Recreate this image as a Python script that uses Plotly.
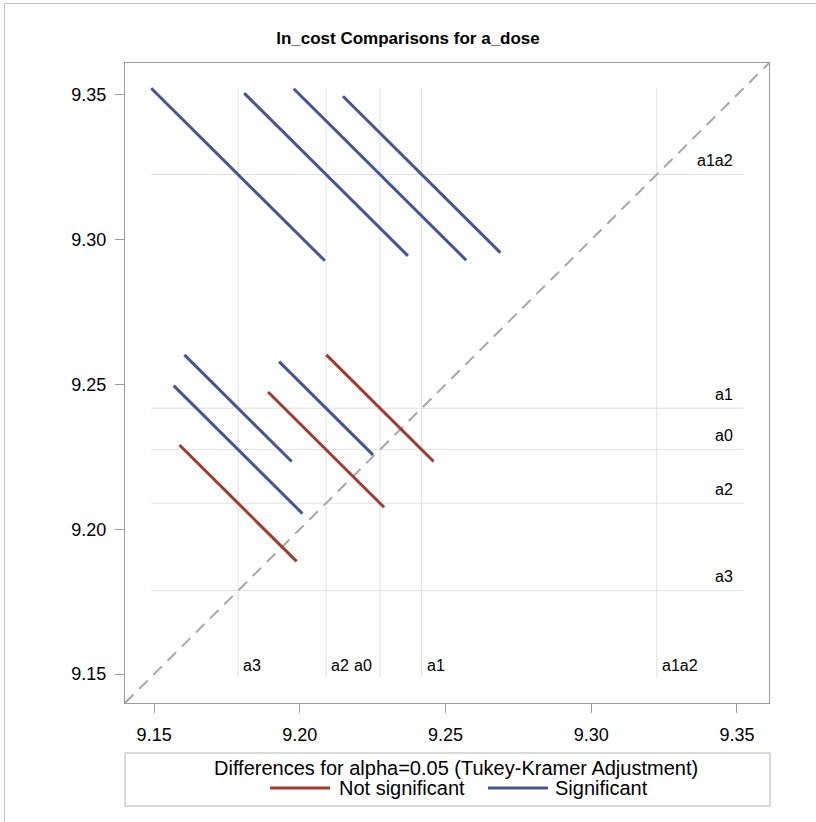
import plotly.graph_objects as go

# LS-means of ln_cost for each a_dose level
levels = ["a0", "a1", "a2", "a3", "a1a2"]
lsmeans = [9.2275, 9.2418, 9.2090, 9.1788, 9.3225]

# Pairwise comparisons: level on the x axis, level on the y axis,
# Tukey-Kramer CI half-width of the difference, and significance flag
pair_x = ["a3", "a2", "a0", "a1", "a3", "a3", "a3", "a2", "a2", "a0"]
pair_y = ["a1a2", "a1a2", "a1a2", "a1a2", "a1", "a0", "a2", "a1", "a0", "a1"]
ci_halfwidth = [0.0596, 0.0562, 0.0592, 0.0540, 0.0368, 0.0442, 0.0402, 0.0322, 0.0398, 0.0368]
significant = [True, True, True, True, True, True, False, True, False, False]

axis_range = [9.1400, 9.3610]
tick_vals = [9.15, 9.20, 9.25, 9.30, 9.35]
tick_text = ["9.15", "9.20", "9.25", "9.30", "9.35"]

legend_title = "Differences for alpha=0.05 (Tukey-Kramer Adjustment)"
legend_names = ["Not significant", "Significant"]

FONT = "Liberation Sans, Arial, sans-serif"
RED = "#A23A2E"
BLUE = "#445694"
REF = "#E0E0E0"
FRAME = "#9C9C9C"

# plot-area geometry in pixels, used to place paper-referenced items
W, H = 816, 822
ML, MR, MT, MB = 125, 47, 63, 119
PW, PH = W - ML - MR, H - MT - MB


def px(x):
    return (x - ML) / PW


def py(y):
    return (H - MB - y) / PH


mean_of = dict(zip(levels, lsmeans))

fig = go.Figure()

# diffogram segments: slope -1, centred on (mean_x, mean_y)
ends = []
for lx, ly, hw, sig in zip(pair_x, pair_y, ci_halfwidth, significant):
    cx, cy = mean_of[lx], mean_of[ly]
    h = hw / 2.0
    xs = [cx - h, cx + h]
    ys = [cy + h, cy - h]
    ends.extend(xs + ys)
    fig.add_trace(go.Scatter(
        x=xs, y=ys, mode="lines",
        line=dict(color=BLUE if sig else RED, width=3),
        name=legend_names[1] if sig else legend_names[0],
        showlegend=False, hoverinfo="skip",
    ))

lo, hi = min(ends), max(ends)

# reference lines at each LS-mean
for lv, m in zip(levels, lsmeans):
    fig.add_shape(type="line", x0=m, x1=m, y0=lo, y1=hi, xref="x", yref="y",
                  line=dict(color=REF, width=1), layer="below")
    fig.add_shape(type="line", x0=lo, x1=hi, y0=m, y1=m, xref="x", yref="y",
                  line=dict(color=REF, width=1), layer="below")

# diagonal y = x
fig.add_shape(type="line", x0=axis_range[0], y0=axis_range[0],
              x1=axis_range[1], y1=axis_range[1], xref="x", yref="y",
              line=dict(color="#A8A8A8", width=2, dash="12px,8px"), layer="below")

# labels for the reference lines
label_font = dict(family=FONT, size=16, color="#000000")
left_of_line = {"a0"}
for lv, m in zip(levels, lsmeans):
    if lv in left_of_line:
        fig.add_annotation(x=m, y=9.1531, xref="x", yref="y", text=lv,
                           showarrow=False, xanchor="right", xshift=-6,
                           font=label_font)
    else:
        fig.add_annotation(x=m, y=9.1531, xref="x", yref="y", text=lv,
                           showarrow=False, xanchor="left", xshift=3,
                           font=label_font)
    fig.add_annotation(x=9.3493, y=m, xref="x", yref="y", text=lv,
                       showarrow=False, xanchor="right", yanchor="middle",
                       yshift=14, font=label_font)

# legend: frame, heading and the two line keys
legend_font = dict(family=FONT, size=20, color="#000000")
fig.add_shape(type="rect", xref="paper", yref="paper",
              x0=px(125), x1=px(770), y0=py(806), y1=py(753),
              line=dict(color="#B4B4B4", width=1), fillcolor="white")
fig.add_annotation(xref="paper", yref="paper", x=px(456), y=py(768),
                   text=legend_title, showarrow=False,
                   xanchor="center", yanchor="middle", font=legend_font)
key_specs = [(RED, 270, 330, 337), (BLUE, 488, 548, 553)]
for name, (col, x0, x1, xt) in zip(legend_names, key_specs):
    fig.add_shape(type="line", xref="paper", yref="paper",
                  x0=px(x0), x1=px(x1), y0=py(788), y1=py(788),
                  line=dict(color=col, width=3))
    fig.add_annotation(xref="paper", yref="paper", x=px(xt), y=py(788),
                       text=name, showarrow=False,
                       xanchor="left", yanchor="middle", font=legend_font)

# outer graph border (top and left edges)
fig.add_shape(type="line", xref="paper", yref="paper",
              x0=px(4), x1=px(840), y0=py(3.5), y1=py(3.5),
              line=dict(color="#C8C8C8", width=1), layer="below")
fig.add_shape(type="line", xref="paper", yref="paper",
              x0=px(4.5), x1=px(4.5), y0=py(3), y1=py(840),
              line=dict(color="#C8C8C8", width=1), layer="below")

axis_common = dict(
    range=axis_range, tickvals=tick_vals, ticktext=tick_text,
    showgrid=False, zeroline=False, showline=True, mirror=True,
    linecolor=FRAME, linewidth=1, ticks="outside", ticklen=9,
    tickcolor=FRAME, tickfont=dict(family=FONT, size=18, color="#000000"),
)

fig.update_layout(
    width=W, height=H,
    margin=dict(l=ML, r=MR, t=MT, b=MB),
    paper_bgcolor="white", plot_bgcolor="white",
    title=dict(text="<b>ln_cost Comparisons for a_dose</b>",
               x=0.5, xref="container", xanchor="center",
               y=1 - 38 / H, yanchor="middle",
               font=dict(family=FONT, size=17, color="#000000")),
    xaxis=dict(axis_common, ticklabelstandoff=6),
    yaxis=dict(axis_common, ticklabelstandoff=5),
    showlegend=False,
)

fig.write_html("out.html", config={"displayModeBar": False})
